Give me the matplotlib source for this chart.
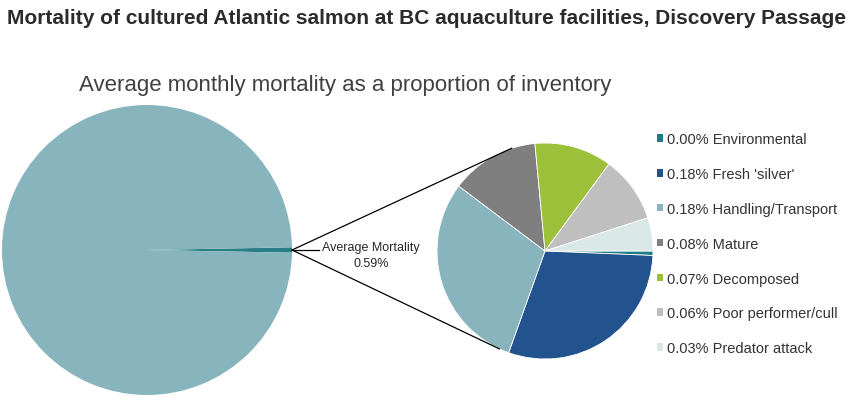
import numpy as np
import matplotlib
matplotlib.use('Agg')
import matplotlib.pyplot as plt
from matplotlib.patches import Patch

plt.rcParams['font.family'] = ['Liberation Sans', 'DejaVu Sans']

# mortality causes, % of inventory per month
causes = ['Environmental', "Fresh 'silver'", 'Handling/Transport', 'Mature',
          'Decomposed', 'Poor performer/cull', 'Predator attack']
values = [0.004, 0.18, 0.18, 0.08, 0.07, 0.06, 0.03]
shown = [0.00, 0.18, 0.18, 0.08, 0.07, 0.06, 0.03]
colours = ['#1f7c84', '#23538f', '#88b5bd', '#7f7f7f', '#9dc03b', '#bfbfbf', '#d9e8e6']

avg_mortality = 0.59
survived = 100 - avg_mortality

W, H = 854, 402
fig = plt.figure(figsize=(W / 100, H / 100), dpi=100)
ax = fig.add_axes([0, 0, 1, 1])

# big pie: everything vs the mortality slice
big_c, big_r = (147, 151), 145
ax.pie([avg_mortality, survived], colors=['#2a7f87', '#88b5bd'],
       startangle=-avg_mortality / 100 * 180, center=big_c, radius=big_r,
       wedgeprops=dict(linewidth=0), frame=True)

# small pie: breakdown of the mortality
small_c, small_r = (545, 150), 108
ax.pie(values, colors=colours, startangle=0, counterclock=False,
       center=small_c, radius=small_r,
       wedgeprops=dict(linewidth=0.6, edgecolor='white'), frame=True)
ax.set_xlim(0, W)
ax.set_ylim(0, H)
ax.set_aspect('equal')
ax.axis('off')

# connector lines
p0 = (big_c[0] + big_r, big_c[1])
for ang in (108, -115):
    a = np.deg2rad(ang)
    ax.plot([p0[0], small_c[0] + small_r * np.cos(a)],
            [p0[1], small_c[1] + small_r * np.sin(a)], color='black', lw=0.9)
ax.plot([p0[0], 319], [p0[1], p0[1]], color='black', lw=0.9)
ax.text(371, 146, f'Average Mortality\n{avg_mortality:.2f}%', ha='center', va='center',
        fontsize=9, color='#262626', linespacing=1.35)

fig.text(427 / W, 1 - 18 / H, 'Mortality of cultured Atlantic salmon at BC aquaculture facilities, Discovery Passage',
         ha='center', va='center', fontsize=15, fontweight='bold', color='#2b2b2b')
fig.text(345 / W, 1 - 85 / H, 'Average monthly mortality as a proportion of inventory',
         ha='center', va='center', fontsize=16, color='#404040')

handles = [Patch(facecolor=c, edgecolor='none') for c in colours]
labels = [f'{v:.2f}% {n}' for v, n in zip(shown, causes)]
ax.legend(handles, labels, loc='upper left', bbox_to_anchor=(644 / W, 1 - 120 / H),
          bbox_transform=fig.transFigure, frameon=False, fontsize=10.5,
          handlelength=0.43, handleheight=0.43, handletextpad=0.25,
          labelspacing=1.43, labelcolor='#333333')

fig.savefig('out.png', dpi=100)
